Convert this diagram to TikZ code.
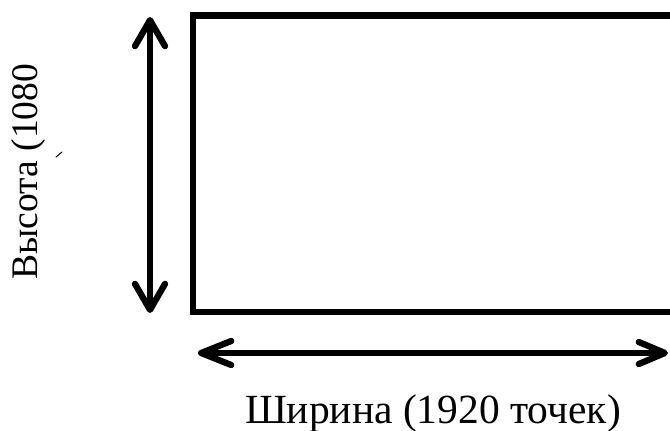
\documentclass[tikz,border=0pt]{standalone}
\usepackage{fontspec}
\setmainfont{Liberation Serif}
\usetikzlibrary{arrows.meta}
\begin{document}
\begin{tikzpicture}[x=1pt,y=-1pt,
  thick line/.style={line width=6.3pt},
  vtip/.style={{Straight Barb[length=26pt,width=30pt,round]}-{Straight Barb[length=26pt,width=30pt,round]}},
  htip/.style={{Straight Barb[length=30pt,width=24pt,round]}-{Straight Barb[length=26pt,width=22pt,round]}},
  label/.style={inner sep=0pt,font=\fontsize{41.5}{48}\selectfont},
  vlabel/.style={inner sep=0pt,font=\fontsize{37.5}{44}\selectfont}]
\useasboundingbox (0,0) rectangle (670,431);
\clip (0,0) rectangle (670,431);
\fill[white] (0,0) rectangle (670,431);
\coordinate (r1) at (193,15.5);
\coordinate (r2) at (720,312);
\draw[thick line] (r1) rectangle (r2);
\coordinate (vt) at (150,17);
\coordinate (vb) at (150,313);
\draw[thick line,vtip,line cap=round] (vt) -- (vb);
\coordinate (hl) at (198,353);
\coordinate (hr) at (668,353);
\draw[thick line,htip] (hl) -- (hr);
\node[label,anchor=base] (w) at (433,423) {Ширина (1920 точек)};
\node[vlabel,anchor=base,rotate=90] (h) at (37,171.5) {Высота (1080};
\coordinate (m1) at (56,157);
\coordinate (m2) at (62,152);
\draw[line width=1pt,line cap=round] (m1) -- (m2);
\end{tikzpicture}
\end{document}
